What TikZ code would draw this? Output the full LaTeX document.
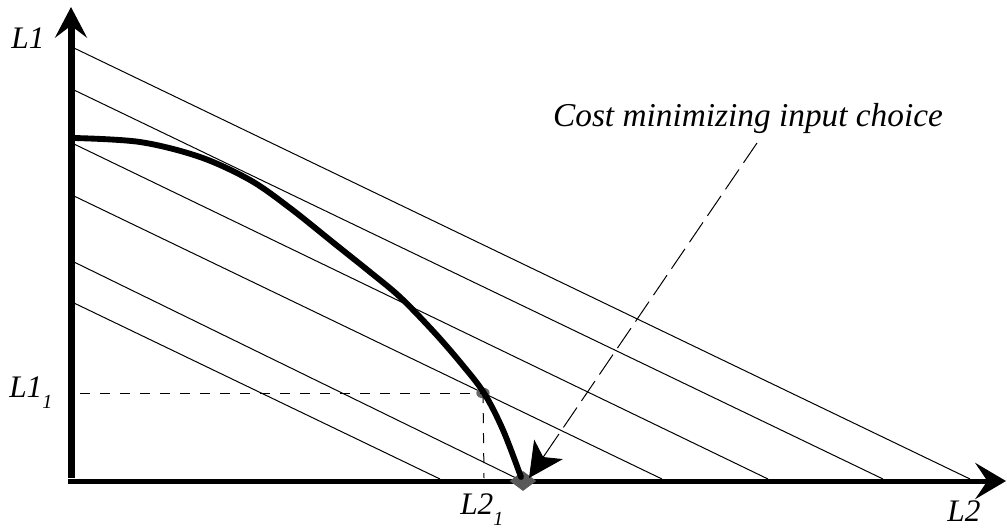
\documentclass[tikz,border=0pt]{standalone}
\usepackage{fontspec}
\setmainfont{Liberation Serif}
\usetikzlibrary{arrows.meta,shapes.geometric,calc}
\tikzset{
  axis/.style={line width=5.25pt,-{Stealth[length=23pt,width=24pt,inset=9pt]}},
  haxis/.style={line width=3.75pt,-{Stealth[length=23pt,width=27pt,inset=9pt]}},
  isocost/.style={line width=0.75pt},
  isoquant/.style={line width=4.4pt,line cap=round},
  guide/.style={line width=0.75pt,dash pattern=on 7.5pt off 7.5pt},
  pointer/.style={line width=0.75pt,dash pattern=on 18pt off 6pt},
  pointertip/.style={line width=0.75pt,-{Stealth[length=26pt,width=26pt,inset=7pt]}},
  lbl/.style={font=\fontsize{23.5pt}{26pt}\selectfont\itshape,inner sep=0pt},
}
\newcommand{\subone}{\raisebox{-0.35em}{\fontsize{15pt}{17pt}\selectfont\itshape 1}}
\begin{document}
\begin{tikzpicture}[x=0.75pt,y=-0.75pt]
\useasboundingbox (0,0) rectangle (1007,529);
% iso-cost lines
\foreach \a/\b [count=\i] in {48/970,90/883,144/768,196/662,262/518,303/440}{
  \coordinate (s\i) at (74,\a);
  \coordinate (e\i) at (\b,479);
  \draw[isocost] (s\i) -- (e\i);
}
% axes
\coordinate (O) at (71,478);
\coordinate (Ytip) at (71,7);
\coordinate (H0) at (68,481);
\coordinate (Xtip) at (1006,481);
\draw[axis] (O) -- (Ytip);
\draw[haxis] (H0) -- (Xtip);
% points
\node[ellipse,fill=black!60,minimum width=10pt,minimum height=8pt,inner sep=0pt] (P) at (483,393) {};
\node[diamond,fill=black!65,minimum width=20pt,minimum height=15pt,inner sep=0pt] (D) at (523,481) {};
% guides
\coordinate (Gy) at (80,393);
\coordinate (Gx) at (484,478);
\draw[guide] (Gy) -- (P.center);
\draw[guide] (P.center) -- (Gx);
% isoquant
\draw[isoquant] plot[smooth,tension=0.55] coordinates {(74,138) (140,142) (200,157) (250,180) (290,208) (335,244) (370,272) (400,297) (433,331) (460,362) (484,393) (503,430) (521,477)};
% pointer and label
\node[lbl,font=\fontsize{25pt}{28pt}\selectfont\itshape] (T) at (748,118) {Cost minimizing input choice};
\coordinate (Ps) at (757,143);
\coordinate (Pt) at (529,478);
\coordinate (Pm) at ($(Pt)!30pt!(Ps)$);
\draw[pointer] (Ps) -- (Pm);
\draw[pointertip] (Pm) -- (Pt);
% axis labels
\node[lbl] (L1) at (28,38) {L1};
\node[lbl] (L2) at (964,511) {L2};
\node[lbl,anchor=west] (L11) at (9,393) {L1\subone};
\node[lbl,anchor=west] (L21) at (460,510) {L2\subone};
\end{tikzpicture}
\end{document}
